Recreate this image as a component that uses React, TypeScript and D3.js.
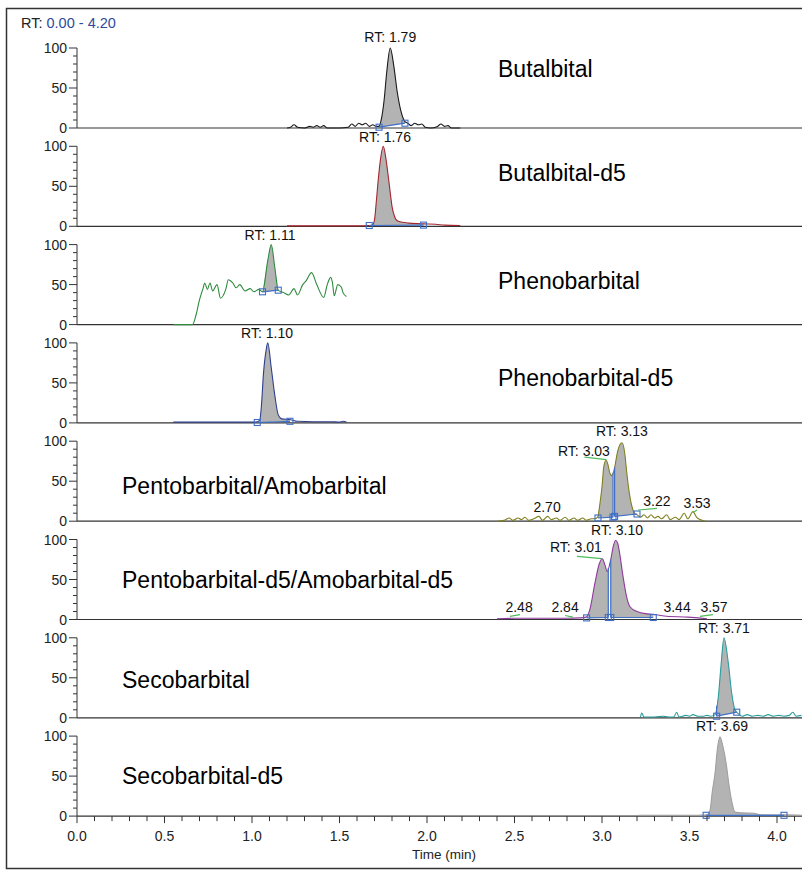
import React from 'react'
import * as d3 from 'd3'

type Pt = [number, number]
type Peak = { from: number; to: number; b0: number; b1: number }
type Tag = { t: number; v: number; text: string; lead?: [Pt, Pt] }

// axis data
const timeDomain: [number, number] = [0, 4.2]
const timeLabels = [0, 0.5, 1, 1.5, 2, 2.5, 3, 3.5, 4]
const intensityLabels = [0, 50, 100]

const compounds = [
  'Butalbital',
  'Butalbital-d5',
  'Phenobarbital',
  'Phenobarbital-d5',
  'Pentobarbital/Amobarbital',
  'Pentobarbital-d5/Amobarbital-d5',
  'Secobarbital',
  'Secobarbital-d5',
]
const traceColors = ['#1a1a1a', '#a3262e', '#2e8b3e', '#2f3f8f', '#808020', '#8e3a9c', '#2a9d9d', '#a0a0a0']

// chromatograms, [time (min), relative abundance %]
const butalbital: Pt[] = [
  [1.2, 0], [1.22, 1], [1.24, 4], [1.26, 1], [1.3, 0], [1.33, 2], [1.35, 1], [1.37, 3], [1.39, 1], [1.41, 3],
  [1.43, 0], [1.5, 0], [1.55, 1], [1.57, 5], [1.59, 2], [1.61, 6], [1.63, 4], [1.65, 6], [1.67, 2], [1.69, 4],
  [1.71, 2], [1.726, 2], [1.74, 12], [1.755, 35], [1.77, 70], [1.79, 100], [1.81, 78], [1.83, 45], [1.85, 22],
  [1.874, 8], [1.89, 6], [1.91, 3], [1.93, 6], [1.95, 4], [1.97, 5], [1.99, 1], [2.02, 0], [2.06, 2], [2.08, 5],
  [2.1, 2], [2.12, 3], [2.14, 0], [2.19, 0],
]
const butalbitalD5: Pt[] = [
  [1.2, 0.5], [1.4, 0.5], [1.6, 0.5], [1.67, 1], [1.69, 2], [1.7, 8], [1.71, 30], [1.72, 55], [1.735, 85],
  [1.75, 100], [1.765, 85], [1.78, 60], [1.79, 42], [1.8, 25], [1.815, 12], [1.83, 7], [1.86, 5], [1.9, 4],
  [1.98, 3], [2.05, 2.5], [2.1, 1.5], [2.19, 1],
]
const phenobarbital: Pt[] = [
  [0.55, 0], [0.66, 0], [0.68, 12], [0.7, 31], [0.72, 45], [0.73, 52], [0.745, 44], [0.76, 52], [0.775, 42],
  [0.8, 50], [0.82, 33], [0.85, 44], [0.865, 56], [0.89, 52], [0.91, 46], [0.93, 50], [0.96, 42], [0.99, 45],
  [1.01, 41], [1.04, 44], [1.06, 41], [1.09, 80], [1.11, 100], [1.13, 72], [1.15, 43], [1.18, 40], [1.21, 37],
  [1.24, 45], [1.26, 37], [1.29, 50], [1.31, 55], [1.34, 65], [1.37, 50], [1.41, 34], [1.43, 50], [1.45, 59],
  [1.46, 52], [1.47, 36], [1.49, 50], [1.51, 47], [1.52, 40], [1.54, 35],
]
const phenobarbitalD5: Pt[] = [
  [0.55, 1], [0.8, 1], [1.0, 1], [1.03, 1.5], [1.045, 4], [1.055, 25], [1.065, 60], [1.08, 90], [1.09, 100],
  [1.11, 69], [1.13, 35], [1.15, 10], [1.17, 5], [1.22, 4], [1.26, 2], [1.35, 1.5], [1.45, 1.5], [1.5, 1],
  [1.52, 2], [1.54, 1],
]
const pentobarbital: Pt[] = [
  [2.4, 0], [2.44, 1], [2.47, 4], [2.49, 1], [2.52, 4], [2.54, 2], [2.56, 5], [2.58, 1], [2.61, 3], [2.64, 6],
  [2.66, 1], [2.69, 6], [2.71, 2], [2.74, 4], [2.76, 1], [2.79, 5], [2.81, 1], [2.84, 4], [2.86, 1], [2.89, 4],
  [2.91, 1], [2.94, 3], [2.96, 3], [2.975, 5], [2.99, 25], [3.0, 43], [3.01, 68], [3.023, 76], [3.035, 70],
  [3.045, 60], [3.057, 57], [3.07, 65], [3.09, 88], [3.114, 98], [3.13, 85], [3.14, 64], [3.15, 45], [3.16, 30],
  [3.177, 14], [3.19, 9], [3.2, 8], [3.22, 5], [3.24, 8], [3.26, 4], [3.28, 8], [3.3, 4], [3.32, 6], [3.34, 3],
  [3.37, 8], [3.39, 2], [3.42, 5], [3.44, 2], [3.47, 10], [3.49, 3], [3.52, 12], [3.54, 5], [3.56, 2], [3.59, 0],
]
const pentobarbitalD5: Pt[] = [
  [2.4, 1], [2.5, 1.5], [2.6, 1.5], [2.7, 1.5], [2.8, 1.5], [2.87, 2], [2.91, 3], [2.93, 12], [2.96, 46],
  [2.985, 70], [3.002, 76], [3.017, 68], [3.03, 60], [3.05, 75], [3.065, 92], [3.078, 99], [3.09, 95], [3.1, 84],
  [3.12, 54], [3.14, 29], [3.16, 16], [3.2, 10], [3.26, 7], [3.31, 6], [3.37, 4], [3.49, 3], [3.6, 1],
]
const secobarbital: Pt[] = [
  [3.22, 1], [3.227, 6], [3.24, 1], [3.3, 1], [3.35, 2], [3.38, 1], [3.41, 1], [3.427, 7], [3.44, 1], [3.48, 3],
  [3.5, 2], [3.52, 4], [3.55, 2], [3.58, 2], [3.6, 3], [3.62, 2], [3.646, 4], [3.665, 27], [3.68, 65],
  [3.697, 100], [3.722, 68], [3.741, 31], [3.76, 10], [3.78, 5], [3.8, 2], [3.83, 4], [3.86, 2], [3.89, 3],
  [3.92, 2], [3.95, 4], [3.98, 2], [4.01, 3], [4.04, 2], [4.07, 3], [4.09, 7], [4.11, 2], [4.14, 3],
]
const secobarbitalD5: Pt[] = [
  [3.21, 1], [3.4, 1], [3.55, 1], [3.6, 1.5], [3.617, 7], [3.63, 30], [3.646, 54], [3.66, 85], [3.674, 99],
  [3.69, 88], [3.712, 62], [3.725, 40], [3.74, 20], [3.76, 5], [3.8, 4], [3.87, 3.5], [3.9, 2], [3.94, 1.5],
  [4.05, 1.5], [4.14, 1],
]
const traces = [butalbital, butalbitalD5, phenobarbital, phenobarbitalD5, pentobarbital, pentobarbitalD5, secobarbital, secobarbitalD5]

// integrated peaks: start, end and baseline level at each end
const peaks: Peak[][] = [
  [{ from: 1.726, to: 1.874, b0: 1, b1: 6 }],
  [{ from: 1.67, to: 1.98, b0: 1, b1: 1.5 }],
  [{ from: 1.06, to: 1.15, b0: 41, b1: 43 }],
  [{ from: 1.03, to: 1.217, b0: 0.5, b1: 2 }],
  [
    { from: 2.977, to: 3.063, b0: 4, b1: 5 },
    { from: 3.072, to: 3.2, b0: 6, b1: 9 },
  ],
  [
    { from: 2.912, to: 3.036, b0: 2, b1: 2.5 },
    { from: 3.05, to: 3.293, b0: 2.5, b1: 2.5 },
  ],
  [{ from: 3.655, to: 3.77, b0: 2, b1: 7 }],
  [{ from: 3.595, to: 4.04, b0: 1, b1: 1 }],
]

// peak annotations
const tags: Tag[][] = [
  [{ t: 1.79, v: 107, text: 'RT: 1.79' }],
  [{ t: 1.76, v: 106, text: 'RT: 1.76' }],
  [{ t: 1.103, v: 106, text: 'RT: 1.11' }],
  [{ t: 1.086, v: 106, text: 'RT: 1.10' }],
  [
    { t: 3.114, v: 106, text: 'RT: 3.13' },
    { t: 2.897, v: 81, text: 'RT: 3.03', lead: [[2.9, 80], [3.025, 77]] },
    { t: 2.686, v: 11, text: '2.70' },
    { t: 3.314, v: 19, text: '3.22', lead: [[3.206, 14], [3.314, 16]] },
    { t: 3.543, v: 16, text: '3.53', lead: [[3.52, 11], [3.543, 14]] },
  ],
  [
    { t: 3.086, v: 106, text: 'RT: 3.10' },
    { t: 2.851, v: 84, text: 'RT: 3.01', lead: [[2.857, 79], [3.0, 76]] },
    { t: 2.526, v: 9, text: '2.48', lead: [[2.474, 4], [2.531, 6]] },
    { t: 2.789, v: 9, text: '2.84', lead: [[2.789, 5], [2.834, 3]] },
    { t: 3.429, v: 10, text: '3.44' },
    { t: 3.64, v: 9, text: '3.57', lead: [[3.56, 4], [3.634, 6]] },
  ],
  [{ t: 3.697, v: 106, text: 'RT: 3.71' }],
  [{ t: 3.686, v: 106, text: 'RT: 3.69' }],
]

// where the compound names sit (px)
const nameX = [498, 498, 498, 498, 122, 122, 122, 122]
const nameRise = [51, 45, 36, 37, 27, 32, 30, 32]

const FONT = "'Liberation Sans', Arial, Helvetica, sans-serif"
const BLUE = '#3f6fc6'
const FILL = '#b3b3b3'
const LEAD = '#4cbb5a'

const interp = (tr: Pt[], t: number) => {
  const i = d3.bisector((d: Pt) => d[0]).left(tr, t)
  if (i <= 0) return tr[0][1]
  if (i >= tr.length) return tr[tr.length - 1][1]
  const a = tr[i - 1]
  const b = tr[i]
  return a[1] + ((b[1] - a[1]) * (t - a[0])) / (b[0] - a[0])
}

const App = () => {
  const left = 77
  const firstBase = 128
  const step = 98.3
  const panelH = 80
  const xScale = d3.scaleLinear().domain(timeDomain).range([left, left + 4.2 * 175])
  const lastBase = firstBase + step * 7

  return (
    <svg
      width={802}
      height={871}
      style={{ position: 'absolute', left: 0, top: 0, background: '#fff' }}
      fontFamily={FONT}
    >
      <rect x={6.5} y={8.5} width={810} height={860} fill='none' stroke='#333' strokeWidth={1.5} />
      <text x={21} y={28} fontSize={14.5} fill='#222'>
        RT: <tspan fill='#2f4b9b'>0.00 - 4.20</tspan>
      </text>

      {compounds.map((name, i) => {
        const base = firstBase + step * i
        const yScale = d3.scaleLinear().domain([0, 100]).range([base, base - panelH])
        const tr = traces[i]
        const line = d3
          .line<Pt>()
          .x((d) => xScale(d[0]))
          .y((d) => yScale(d[1]))
          .curve(d3.curveMonotoneX)
        return (
          <g key={name}>
            {/* peak fills */}
            {peaks[i].map((p, k) => {
              const baseAt = (t: number) => p.b0 + ((p.b1 - p.b0) * (t - p.from)) / (p.to - p.from)
              const pts: Pt[] = [
                [p.from, interp(tr, p.from)],
                ...tr.filter((d) => d[0] > p.from && d[0] < p.to),
                [p.to, interp(tr, p.to)],
              ]
              const area = d3
                .area<Pt>()
                .x((d) => xScale(d[0]))
                .y0((d) => yScale(baseAt(d[0])))
                .y1((d) => yScale(Math.max(d[1], baseAt(d[0]))))
                .curve(d3.curveMonotoneX)
              return <path key={k} d={area(pts) || ''} fill={FILL} stroke='none' />
            })}
            {/* axes */}
            <line x1={left} x2={802} y1={base} y2={base} stroke='#333' strokeWidth={1.2} />
            <line x1={left} x2={left} y1={base} y2={yScale(100)} stroke='#333' strokeWidth={1} />
            {yScale.ticks(10).map((v) => (
              <line
                key={v}
                x1={left - (v % 50 === 0 ? 8 : 4)}
                x2={left}
                y1={yScale(v)}
                y2={yScale(v)}
                stroke='#333'
                strokeWidth={1}
              />
            ))}
            {intensityLabels.map((v) => (
              <text key={v} x={left - 10} y={yScale(v)} dy='0.36em' textAnchor='end' fontSize={14} fill='#222'>
                {v}
              </text>
            ))}
            {/* trace */}
            <path d={line(tr) || ''} fill='none' stroke={traceColors[i]} strokeWidth={1.1} />
            {/* integration baselines, drop lines, markers */}
            {peaks[i].map((p, k) => {
              const ends: [number, number][] = [
                [p.from, p.b0],
                [p.to, p.b1],
              ]
              return (
                <g key={k}>
                  <line
                    x1={xScale(p.from)}
                    x2={xScale(p.to)}
                    y1={yScale(p.b0)}
                    y2={yScale(p.b1)}
                    stroke={BLUE}
                    strokeWidth={1.2}
                  />
                  {ends.map(([t, b], j) =>
                    interp(tr, t) - b > 10 ? (
                      <line
                        key={'d' + j}
                        x1={xScale(t)}
                        x2={xScale(t)}
                        y1={yScale(b)}
                        y2={yScale(interp(tr, t))}
                        stroke={BLUE}
                        strokeWidth={1.2}
                      />
                    ) : null
                  )}
                  {ends.map(([t, b], j) => (
                    <rect
                      key={'m' + j}
                      x={xScale(t) - 3}
                      y={yScale(b) - 3}
                      width={6}
                      height={6}
                      fill='none'
                      stroke={BLUE}
                      strokeWidth={1.1}
                    />
                  ))}
                </g>
              )
            })}
            {/* annotations */}
            {tags[i].map((tg, k) => (
              <g key={k}>
                {tg.lead && (
                  <line
                    x1={xScale(tg.lead[0][0])}
                    y1={yScale(tg.lead[0][1])}
                    x2={xScale(tg.lead[1][0])}
                    y2={yScale(tg.lead[1][1])}
                    stroke={LEAD}
                    strokeWidth={1.2}
                  />
                )}
                <text x={xScale(tg.t)} y={yScale(tg.v)} textAnchor='middle' fontSize={14} fill='#111'>
                  {tg.text}
                </text>
              </g>
            ))}
            <text x={nameX[i]} y={base - nameRise[i]} fontSize={23} fill='#000'>
              {name}
            </text>
          </g>
        )
      })}

      {/* time axis */}
      {xScale
        .ticks(42)
        .filter((t) => t <= 4.15)
        .map((t) => (
          <line
            key={t}
            x1={xScale(t)}
            x2={xScale(t)}
            y1={lastBase}
            y2={lastBase + (Math.abs(t * 2 - Math.round(t * 2)) < 1e-6 ? 7 : 5)}
            stroke='#333'
            strokeWidth={1}
          />
        ))}
      {timeLabels.map((t) => (
        <text key={t} x={xScale(t)} y={lastBase + 25} textAnchor='middle' fontSize={14} fill='#222'>
          {t.toFixed(1)}
        </text>
      ))}
      <text x={444} y={lastBase + 43} textAnchor='middle' fontSize={13.5} fill='#222'>
        Time (min)
      </text>
    </svg>
  )
}

export default App
